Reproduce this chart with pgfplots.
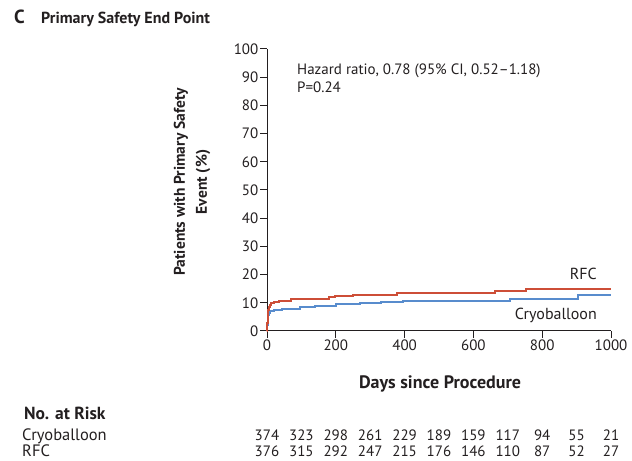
\documentclass[border=0pt]{standalone}
\usepackage{fontspec}
\setmainfont{PT Sans}
\usepackage{pgfplots}
\pgfplotsset{compat=1.18}
\definecolor{rfc}{RGB}{205,78,55}
\definecolor{cryo}{RGB}{88,140,205}
\definecolor{ink}{RGB}{35,31,32}
\pgfplotstableread{
x y
0 0
1 3
2 5.5
4 7.5
6 8.5
9 9.2
13 9.8
20 10.3
35 10.7
70 11.2
180 11.9
198 12.4
251 12.8
377 13.5
662 14.1
754 14.9
1000 14.9
}\rfcdata
\pgfplotstableread{
x y
0 0
1 2
2 4
3 5.5
5 6.5
10 7.0
20 7.4
45 7.8
95 8.5
140 9.0
200 9.4
270 9.8
330 10.2
395 10.5
705 11.2
905 12.9
1000 12.9
}\cryodata
\begin{document}
\fontsize{15bp}{18bp}\selectfont
\begin{tikzpicture}
\path[use as bounding box] (0bp,0bp) rectangle (632bp,461bp);
\begin{axis}[at={(267bp,130bp)}, anchor=south west, scale only axis,
  width=344bp, height=282bp,
  xmin=0, xmax=1000, ymin=0, ymax=100,
  axis x line*=bottom, axis y line*=left,
  axis line style={line width=1bp,-,ink},
  xtick={0,200,...,1000}, ytick={0,10,...,100},
  tick align=outside, major tick length=7bp,
  tick style={line width=1bp,ink},
  ticklabel style={font=\fontsize{15bp}{18bp}\selectfont, text=ink, inner sep=1.5bp},
  /pgf/number format/assume math mode=true,
  /pgf/number format/1000 sep={},
  clip=false]
\addplot[const plot mark left, no marks, color=cryo, line width=2bp] table[x=x,y=y] {\cryodata};
\addplot[const plot mark left, no marks, color=rfc, line width=2bp] table[x=x,y=y] {\rfcdata};
\end{axis}
% labels
\node[anchor=base west, font=\fontsize{19bp}{22bp}\selectfont\bfseries, text=ink] at (9bp,437bp) {C};
\node[anchor=base west, font=\fontsize{16bp}{18bp}\selectfont\bfseries, text=ink] at (36bp,437bp) {Primary Safety End Point};
\node[anchor=base west, text=ink] at (292bp,386bp) {Hazard ratio, 0.78 (95\% CI, 0.52--1.18)};
\node[anchor=base west, text=ink] at (292bp,368bp) {P=0.24};
\node[anchor=base east, font=\fontsize{16bp}{18bp}\selectfont, text=ink] at (602bp,181bp) {RFC};
\node[anchor=base east, font=\fontsize{16bp}{18bp}\selectfont, text=ink] at (602bp,141bp) {Cryoballoon};
\node[rotate=90, align=center, font=\fontsize{15.5bp}{22bp}\selectfont\bfseries, text=ink] at (192bp,279bp) {Patients with Primary Safety\\Event (\%)};
\node[font=\fontsize{18bp}{20bp}\selectfont\bfseries, text=ink] at (440bp,77bp) {Days since Procedure};
\node[anchor=base west, font=\fontsize{17.5bp}{20bp}\selectfont\bfseries, text=ink] at (19bp,41bp) {No. at Risk};
\node[anchor=base west, font=\fontsize{16.5bp}{18bp}\selectfont, text=ink, inner sep=0pt] at (22bp,21bp) {Cryoballoon};
\node[anchor=base west, font=\fontsize{16.5bp}{18bp}\selectfont, text=ink, inner sep=0pt] at (22bp,4.5bp) {RFC};
\foreach \n [count=\i from 0] in {374,323,298,261,229,189,159,117,94,55,21}
  \node[anchor=base, text=ink, inner sep=0pt] at ({267bp+34.4bp*\i},21bp) {\n};
\foreach \n [count=\i from 0] in {376,315,292,247,215,176,146,110,87,52,27}
  \node[anchor=base, text=ink, inner sep=0pt] at ({267bp+34.4bp*\i},4.5bp) {\n};
\end{tikzpicture}
\end{document}
